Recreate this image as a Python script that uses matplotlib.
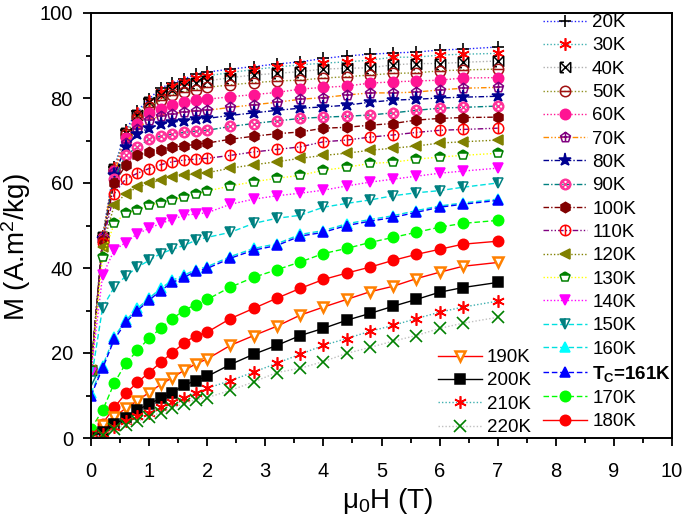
import matplotlib
matplotlib.use('Agg')
import matplotlib.pyplot as plt
from matplotlib.path import Path
from matplotlib.ticker import MultipleLocator

plt.rcParams['font.family'] = ['Liberation Sans', 'DejaVu Sans']
plt.rcParams['mathtext.fontset'] = 'custom'
plt.rcParams['mathtext.rm'] = 'Liberation Sans'
plt.rcParams['mathtext.it'] = 'Liberation Sans:italic'
plt.rcParams['mathtext.bf'] = 'Liberation Sans:bold'

# applied field (T)
H = [0, 0.2, 0.4, 0.6, 0.8, 1.0, 1.2, 1.4, 1.6, 1.8, 2.0, 2.4, 2.8, 3.2,
     3.6, 4.0, 4.4, 4.8, 5.2, 5.6, 6.0, 6.4, 7.0]

# magnetization (A.m2/kg) per temperature
m20 = [16, 47.5, 63.7, 72.5, 77, 79.8, 82.3, 83.6, 84.4, 85.7, 86.1, 86.8, 87.4, 88.0, 88.5, 89.3, 89.9, 90.3, 90.6, 90.8, 91.3, 91.5, 92.0]
m30 = [16, 47.5, 63.5, 72, 76.5, 79.3, 81.5, 82.8, 83.8, 84.7, 85.2, 86.0, 86.7, 87.3, 87.8, 88.2, 88.5, 88.9, 89.6, 89.6, 90.1, 90.3, 90.5]
m40 = [16, 47.3, 63.3, 71.8, 76, 79, 80.8, 82, 82.9, 83.6, 84.0, 84.8, 85.4, 85.8, 86.2, 86.8, 87.0, 87.1, 87.8, 88.1, 88.1, 88.4, 88.7]
m50 = [16, 47.2, 63, 71.5, 75.5, 78, 79.5, 80.8, 81.5, 82.0, 82.5, 83.1, 83.6, 84.0, 84.2, 84.7, 85.0, 85.4, 85.8, 85.9, 86.4, 86.6, 86.8]
m60 = [16, 47, 62.8, 70.5, 74, 76.4, 77.3, 78.3, 79.0, 79.5, 79.7, 80.3, 80.8, 81.3, 82.1, 82.5, 82.8, 83.5, 83.8, 84.0, 84.2, 84.7, 84.8]
m70 = [16, 47, 62.5, 69.5, 72.8, 74.8, 75.8, 76.3, 76.7, 77.0, 77.1, 77.8, 78.4, 79.0, 79.7, 80.1, 80.7, 81.2, 81.2, 81.4, 81.9, 82.3, 82.5]
m80 = [16, 46.8, 62, 68.5, 71.5, 73.0, 73.8, 74.3, 74.6, 75.0, 75.2, 75.9, 76.5, 77.1, 77.6, 77.9, 78.3, 79.0, 79.5, 79.7, 80.0, 80.2, 80.4]
m90 = [16, 46.5, 61, 66.5, 68.5, 70.3, 71.0, 71.5, 71.9, 72.2, 72.4, 73.3, 74.0, 74.6, 75.2, 75.5, 75.7, 76.0, 76.5, 77.1, 77.6, 77.8, 78.1]
m100 = [16, 46.5, 60, 64.2, 66.5, 67.3, 67.7, 68.5, 68.7, 69.1, 69.4, 70.3, 71.0, 71.6, 72.0, 72.9, 73.1, 73.6, 74.0, 74.8, 75.2, 75.4, 75.5]
m110 = [16, 46, 57.5, 61.0, 62.3, 63.4, 64.3, 65.0, 65.4, 65.6, 65.8, 66.5, 67.3, 67.9, 68.5, 69.7, 70.1, 70.8, 71.3, 71.9, 72.4, 72.6, 72.9]
m120 = [16, 45, 54.8, 57.5, 59.0, 59.9, 60.7, 61.4, 61.8, 62.2, 62.4, 63.5, 64.3, 65.0, 65.8, 66.5, 67.0, 67.7, 68.2, 68.7, 69.4, 69.7, 70.1]
m130 = [16, 42.5, 50.5, 52.9, 53.6, 54.8, 55.3, 56.0, 56.7, 57.3, 58.1, 59.3, 60.3, 61.1, 61.8, 63.0, 63.7, 64.6, 64.9, 65.6, 66.1, 66.5, 67.0]
m140 = [15.4, 38.3, 44.2, 46.0, 48.1, 49.3, 50.5, 51.4, 52.4, 52.7, 53.0, 55.0, 56.2, 57.0, 57.6, 58.3, 59.3, 60.2, 60.9, 61.6, 62.3, 62.8, 63.5]
m150 = [13.5, 30.7, 35.5, 38.1, 40.2, 41.8, 43.4, 44.4, 45.3, 46.5, 47.2, 48.4, 50.5, 51.7, 52.4, 54.3, 55.2, 56.0, 57.0, 57.7, 58.2, 59.0, 60.0]
m160 = [10.5, 17, 23.8, 27.7, 30.5, 32.9, 35.2, 37.1, 38.3, 39.6, 40.3, 42.7, 44.6, 45.7, 47.9, 48.8, 50.4, 51.4, 52.3, 53.5, 54.6, 55.3, 56.2]
m161 = [10, 16.4, 23.2, 27.2, 30, 32.4, 34.7, 36.6, 37.8, 39.2, 39.9, 42.3, 44.2, 45.3, 47.5, 48.4, 50.0, 51.0, 51.9, 53.1, 54.3, 55.0, 55.9]
m170 = [2.2, 6.5, 12.9, 17.6, 20.6, 23.5, 25.8, 28.1, 30.0, 31.4, 32.6, 35.5, 37.8, 39.6, 41.4, 43.4, 44.6, 46.0, 47.2, 48.4, 49.6, 50.5, 51.2]
m180 = [0.5, 3.4, 7.2, 10.5, 13.1, 15.4, 17.8, 20.1, 22.3, 24.1, 24.9, 28.1, 30.5, 32.9, 35.2, 37.3, 38.8, 40.2, 41.8, 43.2, 44.4, 45.6, 46.3]
m190 = [0, 3.0, 5.0, 7.0, 8.8, 10.7, 12.6, 14.2, 15.9, 17.4, 18.6, 21.8, 24.1, 26.3, 28.9, 30.8, 32.6, 34.4, 35.7, 37.5, 39.0, 40.4, 41.3]
m200 = [0, 1.5, 3.4, 4.6, 6.5, 8.1, 9.3, 10.7, 12.4, 13.5, 14.5, 17.3, 19.7, 21.8, 24.1, 25.8, 27.7, 29.3, 31.0, 32.6, 34.3, 35.4, 36.6]
m210 = [0, 1.0, 2.5, 4.1, 5.1, 6.0, 7.2, 8.5, 9.5, 10.5, 11.7, 13.5, 15.5, 17.6, 19.7, 21.8, 23.4, 25.1, 26.5, 28.1, 29.6, 30.8, 32.2]
m220 = [0, 0.8, 2.2, 3.0, 3.9, 4.9, 6.0, 7.0, 8.1, 9.0, 9.5, 11.2, 13.2, 15.4, 16.4, 18.0, 19.9, 21.3, 22.8, 24.1, 25.8, 27.0, 28.4]

labels = ['20K', '30K', '40K', '50K', '60K', '70K', '80K', '90K', '100K',
          '110K', '120K', '130K', '140K', '150K', '160K', r'$\mathbf{T_C}$=161K',
          '170K', '180K', '190K', '200K', '210K', '220K']
data = [m20, m30, m40, m50, m60, m70, m80, m90, m100, m110, m120, m130,
        m140, m150, m160, m161, m170, m180, m190, m200, m210, m220]

# custom symbols
circ = Path.unit_circle()
seg = lambda a, b: Path([a, b])
circ_minus = Path.make_compound_path(circ, seg((-1, 0), (1, 0)))
circ_bar = Path.make_compound_path(circ, seg((0, -1), (0, 1)))
circ_hatch = Path.make_compound_path(
    circ, seg((-0.7, -0.7), (0.7, 0.7)), seg((-0.7, 0.7), (0.7, -0.7)),
    seg((-1, 0), (0, 1)), seg((0, 1), (1, 0)), seg((1, 0), (0, -1)), seg((0, -1), (-1, 0)))
pent_plus = Path.make_compound_path(
    Path.unit_regular_polygon(5), seg((-0.85, 0.1), (0.85, 0.1)), seg((0, -0.8), (0, 1)))
bowtie = Path.make_compound_path(
    seg((-1, -1), (1, 1)), seg((-1, 1), (1, -1)), seg((-1, 1), (-0.3, 1)),
    seg((-1, -1), (-0.3, -1)), seg((-1, -1), (-1, 1)), seg((1, -1), (1, 1)))
ast = (6, 2, 0)

dot = (0, (1, 1.5))
dd = (0, (4, 1.5, 1, 1.5))
ddd = (0, (4, 1.5, 1, 1.5, 1, 1.5))
dash = (0, (4, 2))

# (line colour, linestyle, marker, marker colour, face colour)
styles = [
    ('#2020ff', dot, '+', 'black', 'black'),
    ('#40b0b0', dot, ast, 'red', 'red'),
    ('#b0b0b0', dot, bowtie, 'black', 'none'),
    ('#909020', dot, circ_minus, '#a01010', 'none'),
    ('#ff1493', dot, 'o', '#ff1493', '#ff1493'),
    ('#ff8c00', ddd, pent_plus, '#800080', 'none'),
    ('#000090', dd, '*', '#000090', '#000090'),
    ('#008080', dd, circ_hatch, '#ff3399', 'none'),
    ('#800000', dd, 'h', '#800000', '#800000'),
    ('#800080', ddd, circ_bar, 'red', 'none'),
    ('#808000', dot, '<', '#808000', '#808000'),
    ('#ffff00', dot, 'p', '#008000', '#008000'),
    ('#ff00ff', dot, 'v', '#ff00ff', '#ff00ff'),
    ('#00e0e0', dash, 'v', '#008080', '#008080'),
    ('#00e0e0', dash, '^', '#00ffff', '#00ffff'),
    ('#0000ff', dash, '^', '#0000ff', '#0000ff'),
    ('#00ff00', dash, 'o', '#00ff00', '#00ff00'),
    ('#ff0000', '-', 'o', '#ff0000', '#ff0000'),
    ('#ff0000', '-', 'v', '#ff8000', 'white'),
    ('#000000', '-', 's', '#000000', '#000000'),
    ('#40b0b0', dot, ast, 'red', 'red'),
    ('#c0c0c0', dot, 'x', '#008000', '#008000'),
]

fig = plt.figure(figsize=(6.85, 5.24), dpi=100)
ax = fig.add_axes([91 / 685, 1 - 438 / 524, 581 / 685, 425 / 524])

lines = []
for i, (m, lab, st) in enumerate(zip(data, labels, styles)):
    lc, ls, mk, mc, fc = st
    kw = dict(color=lc, linestyle=ls, linewidth=1.0, marker=mk, markersize=7.5,
              markeredgecolor=mc, markerfacecolor=fc, markeredgewidth=1.1, label=lab)
    if i == 11:
        kw.update(fillstyle='top', markerfacecoloralt='white')
    if i == 13:
        kw.update(fillstyle='left', markerfacecoloralt='white')
    if i == 18:
        kw.update(markeredgewidth=1.8)
    if i == 6:
        kw.update(markersize=9.5)
    if mk in ('+', 'x') or mk is ast:
        kw.update(markeredgewidth=1.2, markersize=9)
    ln, = ax.plot(H, m, **kw)
    lines.append(ln)

ax.set_xlim(0, 10)
ax.set_ylim(0, 100)
ax.xaxis.set_major_locator(MultipleLocator(1))
ax.xaxis.set_minor_locator(MultipleLocator(0.5))
ax.yaxis.set_major_locator(MultipleLocator(20))
ax.yaxis.set_minor_locator(MultipleLocator(10))
ax.tick_params(which='both', direction='out', top=False, right=False,
               labelsize=14.5, width=1.3)
ax.tick_params(which='major', length=6, pad=7)
ax.tick_params(axis='x', which='major', pad=11)
ax.tick_params(which='minor', length=3.5)
for s in ax.spines.values():
    s.set_linewidth(1.4)

ax.set_xlabel(r'μ$_0$H (T)', fontsize=20)
ax.set_ylabel(r'M (A.m$^2$/kg)', fontsize=20)
ax.xaxis.set_label_coords(0.51, -0.112)
ax.yaxis.set_label_coords(-0.1, 0.45)

legkw = dict(loc='upper left', bbox_transform=fig.transFigure, frameon=False,
             borderpad=0, borderaxespad=0, handlelength=2.35, handletextpad=0.27,
             labelspacing=0.33, fontsize=13.5, numpoints=1)
leg1 = ax.legend(handles=lines[:18], bbox_to_anchor=(543 / 685, 1 - 14 / 524), **legkw)
for t in leg1.get_texts():
    if 'T_C' in t.get_text():
        t.set_fontweight('bold')
ax.add_artist(leg1)
ax.legend(handles=lines[18:], bbox_to_anchor=(438 / 685, 1 - 349 / 524), **legkw)

fig.savefig('out.png', dpi=100)
